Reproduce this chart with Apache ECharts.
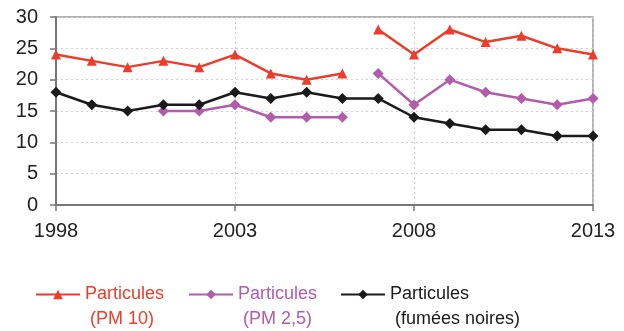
<!DOCTYPE html>
<html><head><meta charset="utf-8">
<script src="https://cdn.jsdelivr.net/npm/echarts@6/dist/echarts.min.js"></script>
<style>html,body{margin:0;padding:0;background:#fff}#c{width:624px;height:331px}</style>
</head><body><div id="c"></div>
<script>
const years = [1998,1999,2000,2001,2002,2003,2004,2005,2006,2007,2008,2009,2010,2011,2012,2013];
const pm10 =   [24,23,22,23,22,24,21,20,21,28,24,28,26,27,25,24];
const pm25 =   [null,null,null,15,15,16,14,14,14,21,16,20,18,17,16,17];
const fumees = [18,16,15,16,16,18,17,18,17,17,14,13,12,12,11,11];
const yTicks = [0,5,10,15,20,25,30];
const lastYearBeforeBreak = 2006;
const names = ['Particules (PM 10)','Particules (PM 2,5)','Particules (fumées noires)'];
const colors = ['#EE3B2B','#B25CAB','#1A1A1A'];

function pairs(vals, from, to){
  const out=[];
  years.forEach((y,i)=>{ if(y>=from && y<=to && vals[i]!=null) out.push([y,vals[i]]); });
  return out;
}
function mk(name,color,data,symbol,size){
  return {name,type:'line',data,symbol,symbolSize:size,showSymbol:true,
    lineStyle:{color,width:2.5},itemStyle:{color},color,animation:false,z:3};
}
const series = [
  mk(names[0],colors[0],pairs(pm10,1998,lastYearBeforeBreak),'triangle',10),
  mk(names[0],colors[0],pairs(pm10,lastYearBeforeBreak+1,2013),'triangle',10),
  mk(names[1],colors[1],pairs(pm25,1998,lastYearBeforeBreak),'diamond',11),
  mk(names[1],colors[1],pairs(pm25,lastYearBeforeBreak+1,2013),'diamond',11),
  mk(names[2],colors[2],pairs(fumees,1998,2013),'diamond',11)
];
const legendLefts = [30,183,335];
const legends = names.map((n,i)=>({
  data:[{name:n,textStyle:{color:colors[i]}}],
  left:legendLefts[i], top:252, itemWidth:44, itemHeight:12, itemGap:4,
  selectedMode:false,
  formatter: nm => ' \n' + nm.replace(' (','\n ('),
  textStyle:{fontFamily:'Liberation Sans, Arial, sans-serif',fontSize:18,lineHeight:25,color:colors[i]}
}));
const chart = echarts.init(document.getElementById('c'),null,{renderer:'canvas'});
chart.setOption({
  animation:false,
  grid:{left:56,right:31,top:17,bottom:126,show:true,borderColor:'#9a9a9a',borderWidth:1.5},
  legend:legends,
  xAxis:{type:'value',min:1998,max:2013,interval:5,
    axisLine:{show:true,lineStyle:{color:'#777',width:2}},
    axisTick:{show:true,length:6,lineStyle:{color:'#777',width:1.5}},
    axisLabel:{color:'#222',fontSize:20,fontFamily:'Liberation Sans, Arial, sans-serif',margin:16,formatter:v=>String(v)},
    splitLine:{show:true,lineStyle:{color:'#cfcfcf',type:[2,3],width:1.2}}},
  yAxis:{type:'value',min:yTicks[0],max:yTicks[yTicks.length-1],interval:5,
    axisLine:{show:true,lineStyle:{color:'#777',width:2}},
    axisTick:{show:true,length:6,lineStyle:{color:'#777',width:1.5}},
    axisLabel:{color:'#222',fontSize:20,fontFamily:'Liberation Sans, Arial, sans-serif',margin:18},
    splitLine:{show:true,lineStyle:{color:'#cfcfcf',type:[2,3],width:1.2}}},
  series
});
</script></body></html>
